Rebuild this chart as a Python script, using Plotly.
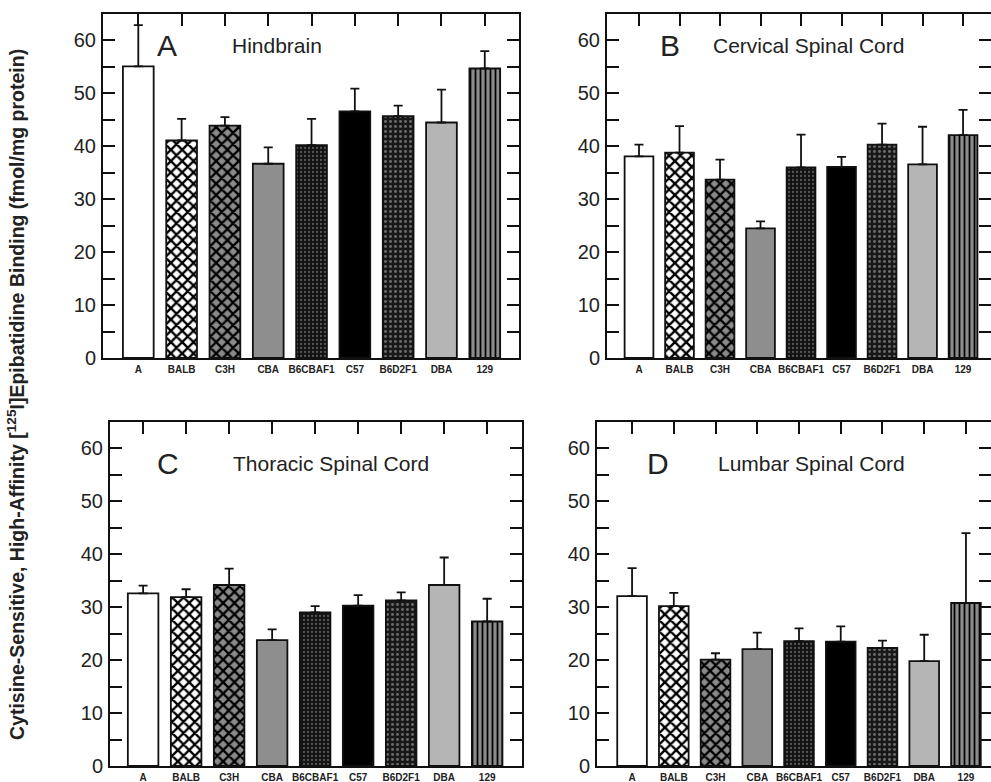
import plotly.graph_objects as go

strains = ["A", "BALB", "C3H", "CBA", "B6CBAF1", "C57", "B6D2F1", "DBA", "129"]

hind_vals = [55.1, 41.1, 43.9, 36.7, 40.2, 46.6, 45.7, 44.5, 54.7]
hind_err = [7.8, 4.1, 1.6, 3.1, 5.0, 4.3, 2.0, 6.2, 3.3]

cerv_vals = [38.1, 38.8, 33.7, 24.5, 36.0, 36.1, 40.3, 36.6, 42.1]
cerv_err = [2.2, 5.0, 3.8, 1.3, 6.2, 1.9, 4.0, 7.1, 4.8]

thor_vals = [32.6, 31.9, 34.2, 23.8, 29.0, 30.3, 31.3, 34.2, 27.3]
thor_err = [1.5, 1.5, 3.1, 2.0, 1.2, 2.0, 1.5, 5.2, 4.3]

lumb_vals = [32.1, 30.2, 20.1, 22.1, 23.6, 23.5, 22.3, 19.8, 30.8]
lumb_err = [5.3, 2.5, 1.2, 3.1, 2.4, 2.9, 1.4, 5.0, 13.2]

panel_letters = ["A", "B", "C", "D"]
panel_titles = ["Hindbrain", "Cervical Spinal Cord", "Thoracic Spinal Cord", "Lumbar Spinal Cord"]

y_tick_vals = [0, 10, 20, 30, 40, 50, 60]

# styles per strain
bar_colors = ["#ffffff", "#ffffff", "#8a8a8a", "#8e8e8e", "#121212", "#000000", "#181818", "#b5b5b5", "#8c8c8c"]
pat_shapes = ["", "x", "x", "", ".", "", ".", "", "|"]
pat_fg = ["#000", "#000", "#000", "#000", "#555555", "#000", "#6a6a6a", "#000", "#000"]
pat_size = [8, 8, 8, 8, 4, 8, 5, 8, 5]
pat_sol = [0.3, 0.5, 0.5, 0.3, 0.25, 0.3, 0.28, 0.3, 0.35]

W, H = 991, 782
# pixel geometry of panels: (left, right, top, bottom, xrange)
geo = [
    (103, 519, 14, 358, [-0.815, 8.79]),
    (607, 991, 14, 358, [-0.79, 8.69]),
    (110, 522, 422, 766, [-0.77, 8.81]),
    (597, 991, 422, 766, [-0.84, 8.60]),
]
letter_pos = [(155, 45), (658, 45), (155, 463), (645, 463)]
title_pos = [(230, 45), (711, 45), (231, 463), (716, 463)]

data = [(hind_vals, hind_err), (cerv_vals, cerv_err), (thor_vals, thor_err), (lumb_vals, lumb_err)]

fig = go.Figure()
font_fam = "Arial, Liberation Sans, sans-serif"

for i, (vals, errs) in enumerate(data):
    n = "" if i == 0 else str(i + 1)
    for j, s in enumerate(strains):
        pattern = dict(shape=pat_shapes[j], fillmode="replace")
        if pat_shapes[j]:
            pattern.update(fgcolor=pat_fg[j], bgcolor=bar_colors[j], size=pat_size[j], solidity=pat_sol[j])
        fig.add_trace(go.Bar(
            x=[s], y=[vals[j]],
            xaxis="x" + n, yaxis="y" + n,
            width=0.71,
            marker=dict(color=bar_colors[j], line=dict(color="#111", width=1.8), pattern=pattern),
            error_y=dict(type="data", symmetric=False, array=[errs[j]], arrayminus=[0],
                         color="#111", thickness=1.8, width=4.5),
            showlegend=False,
        ))
    l, r, t, b, xr = geo[i]
    xd = [l / W, r / W]
    yd = [1 - b / H, 1 - t / H]
    fig.update_layout(**{
        "xaxis" + n: dict(domain=xd, range=xr, type="category", anchor="y" + n,
                          categoryorder="array", categoryarray=strains,
                          showline=True, linecolor="#111", linewidth=2, mirror="ticks",
                          ticks="inside", ticklen=12, tickwidth=2, tickcolor="#111",
                          layer="below traces", showgrid=False, zeroline=False, automargin=False,
                          tickfont=dict(family=font_fam, size=10, color="#222", weight="bold"),
                          ticklabelstandoff=1),
        "yaxis" + n: dict(domain=yd, range=[0, 65], anchor="x" + n,
                          showline=True, linecolor="#111", linewidth=2, mirror="ticks",
                          ticks="inside", ticklen=12, tickwidth=2, tickcolor="#111",
                          tickvals=y_tick_vals, showgrid=False, zeroline=False, automargin=False,
                          minor=dict(dtick=5, tick0=0, ticks="inside", ticklen=12, tickwidth=2, tickcolor="#111"),
                          tickfont=dict(family=font_fam, size=20, color="#222"),
                          ticklabelstandoff=1),
    })
    lx, ly = letter_pos[i]
    fig.add_annotation(x=lx / W, y=1 - ly / H, xref="paper", yref="paper", xanchor="left", yanchor="middle",
                       text=panel_letters[i], showarrow=False,
                       font=dict(family=font_fam, size=30, color="#222"))
    tx, ty = title_pos[i]
    fig.add_annotation(x=tx / W, y=1 - ty / H, xref="paper", yref="paper", xanchor="left", yanchor="middle",
                       text=panel_titles[i], showarrow=False,
                       font=dict(family=font_fam, size=21, color="#222"))

fig.add_annotation(x=16 / W, y=1 - 395 / H, xref="paper", yref="paper", xanchor="center", yanchor="middle",
                   text="Cytisine-Sensitive, High-Affinity [<sup>125</sup>I]Epibatidine Binding (fmol/mg protein)",
                   textangle=-90, showarrow=False,
                   font=dict(family=font_fam, size=19.5, color="#222", weight="bold"))

fig.update_layout(width=W, height=H, margin=dict(l=0, r=0, t=0, b=0, autoexpand=False),
                  paper_bgcolor="white", plot_bgcolor="white", barmode="overlay")

fig.write_html("out.html", config={"displayModeBar": False},
               post_script="document.body.style.margin='0px';document.body.style.overflow='hidden';")
